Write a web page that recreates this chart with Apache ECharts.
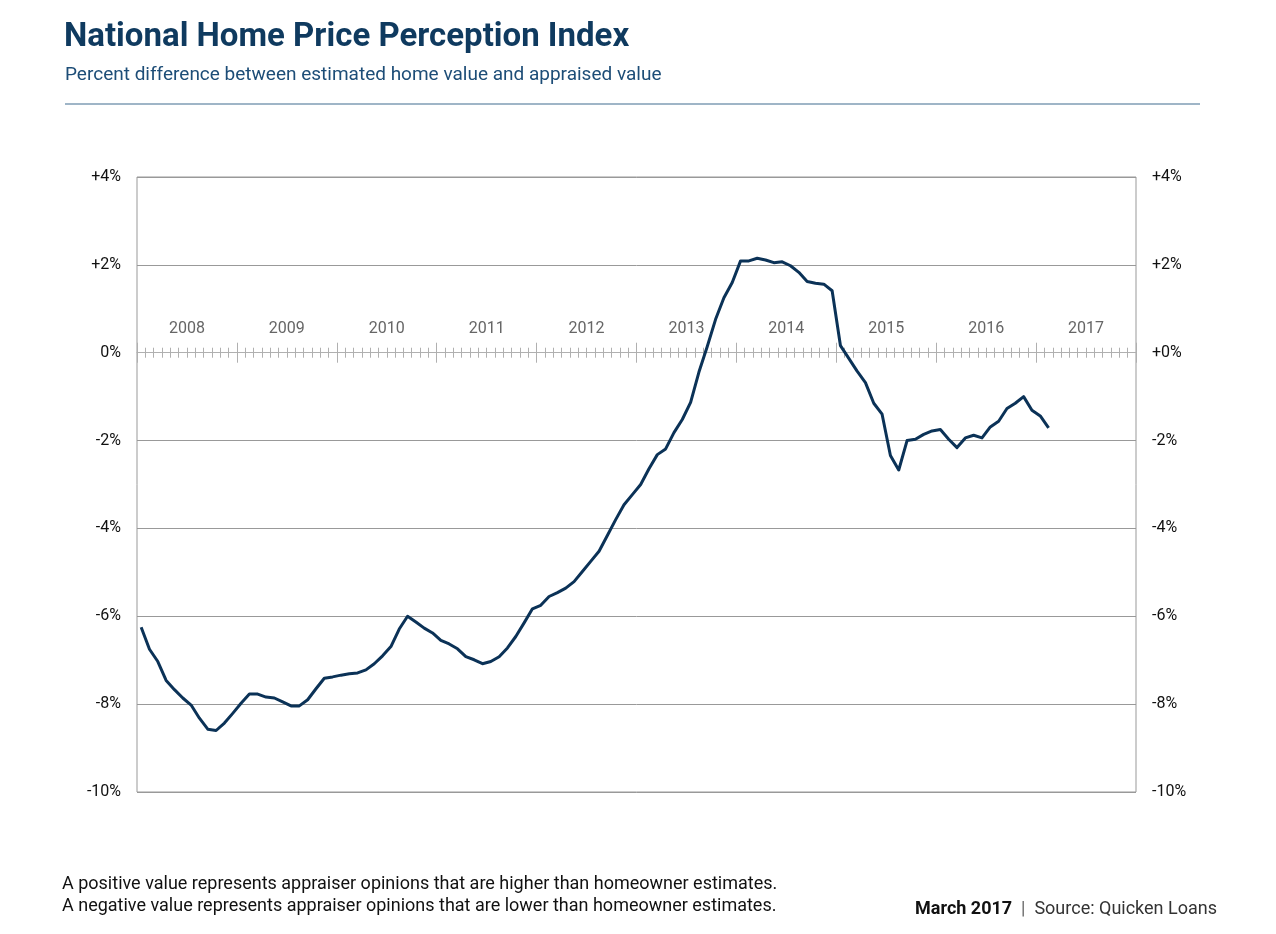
<!DOCTYPE html>
<html>
<head>
<meta charset="utf-8">
<script src="https://cdn.jsdelivr.net/npm/echarts@6/dist/echarts.min.js"></script>
<style>html,body{margin:0;padding:0;background:#fff;}#c{width:1276px;height:934px;}</style>
</head>
<body>
<div id="c"></div>
<script>
// ---- data ----
const startYear = 2008;
const yearLabels = ['2008','2009','2010','2011','2012','2013','2014','2015','2016','2017'];
const monthsPerYear = 12;
// monthly index values, Jan 2008 .. Feb 2017 (percent)
const values = [
  -6.25, -6.75, -7.03, -7.46, -7.67, -7.86, -8.02, -8.32, -8.57, -8.60,
  -8.43, -8.21, -7.98, -7.77, -7.77, -7.84, -7.86, -7.95, -8.04, -8.04,
  -7.90, -7.65, -7.41, -7.38, -7.34, -7.31, -7.29, -7.22, -7.08, -6.90,
  -6.69, -6.29, -6.00, -6.13, -6.27, -6.38, -6.55, -6.63, -6.74, -6.92,
  -6.99, -7.08, -7.03, -6.92, -6.72, -6.46, -6.15, -5.83, -5.75, -5.55,
  -5.46, -5.36, -5.21, -4.98, -4.75, -4.52, -4.16, -3.80, -3.46, -3.23,
  -3.00, -2.64, -2.32, -2.19, -1.82, -1.52, -1.13, -0.44, 0.14, 0.76,
  1.25, 1.60, 2.09, 2.09, 2.15, 2.11, 2.05, 2.07, 1.98, 1.83,
  1.62, 1.58, 1.56, 1.41, 0.16, -0.13, -0.42, -0.68, -1.15, -1.40,
  -2.34, -2.67, -2.00, -1.97, -1.86, -1.78, -1.75, -1.97, -2.16, -1.94,
  -1.88, -1.94, -1.69, -1.56, -1.27, -1.15, -1.00, -1.31, -1.44, -1.71
];
const yMin = -10, yMax = 4, yStep = 2;
const titleText = 'National Home Price Perception Index';
const subtitleText = 'Percent difference between estimated home value and appraised value';
const note1 = 'A positive value represents appraiser opinions that are higher than homeowner estimates.';
const note2 = 'A negative value represents appraiser opinions that are lower than homeowner estimates.';
const dateText = 'March 2017';
const sourceText = 'Source: Quicken Loans';

// ---- chart ----
const totalMonths = yearLabels.length * monthsPerYear;
const seriesData = values.map((v, i) => [i + 0.5, v]);
const FONT = 'Roboto, "Noto Sans", sans-serif';
const gridGray = '#999999';
const tickGray = '#b0b0b0';
const gridTop = 177, gridBottom = 142, chartH = 934;
const gridHeight = chartH - gridTop - gridBottom;
// distance from the plot bottom edge up to the zero line (for the year-label axis)
const zeroOffset = -gridHeight * (0 - yMin) / (yMax - yMin);

function leftFmt(v){ if (v > 0) return '+' + v + '%'; if (v === 0) return '0%'; return v + '%'; }
function rightFmt(v){ if (v >= 0) return '+' + v + '%'; return v + '%'; }

const chart = echarts.init(document.getElementById('c'), null, {renderer:'canvas'});
const onZeroLine = {onZero: true, onZeroAxisIndex: 0, show: false};
const monthAxisBase = {
  type: 'value', min: 0, max: totalMonths, interval: 1, position: 'bottom',
  axisLine: onZeroLine,
  axisLabel: {show: false}, splitLine: {show: false}
};
const yearAxisBase = {
  type: 'category', data: yearLabels, boundaryGap: true, position: 'bottom',
  axisLine: onZeroLine, splitLine: {show: false}
};
chart.setOption({
  backgroundColor: '#ffffff',
  animation: false,
  grid: {left: 137, right: 140, top: gridTop, bottom: gridBottom, show: true, borderColor: gridGray, borderWidth: 1, backgroundColor: 'transparent'},
  graphic: [
    {type: 'text', left: 64, top: 21, style: {text: titleText, font: 'bold 33px ' + FONT, fill: '#0f3a5f'}},
    {type: 'text', left: 65, top: 66, style: {text: subtitleText, font: '19px ' + FONT, fill: '#1d4d77'}},
    {type: 'line', shape: {x1: 65, y1: 104, x2: 1200, y2: 104}, style: {stroke: '#7f9db5', lineWidth: 1.5}},
    {type: 'text', left: 62, top: 875, style: {text: note1, font: '18px ' + FONT, fill: '#111'}},
    {type: 'text', left: 62, top: 897, style: {text: note2, font: '18px ' + FONT, fill: '#111'}},
    {type: 'text', right: 59, top: 900, style: {text: '{b|' + dateText + '}{s|  |  }{n|' + sourceText + '}',
        rich: {b: {font: 'bold 18px ' + FONT, fill: '#111'}, s: {font: '18px ' + FONT, fill: '#666'}, n: {font: '18px ' + FONT, fill: '#333'}}}}
  ],
  xAxis: [
    Object.assign({}, monthAxisBase, {axisLine: {onZero: true, onZeroAxisIndex: 0, show: true, lineStyle: {color: tickGray, width: 1}},
      axisTick: {show: true, inside: true, length: 5, lineStyle: {color: tickGray}}}),
    Object.assign({}, monthAxisBase, {
      axisTick: {show: true, inside: false, length: 5, lineStyle: {color: tickGray}}}),
    Object.assign({}, yearAxisBase, {
      axisLine: {onZero: false, show: false}, offset: zeroOffset,
      axisTick: {show: true, inside: true, length: 10, lineStyle: {color: tickGray}},
      axisLabel: {show: true, inside: true, margin: 16, color: '#666', fontSize: 16, fontFamily: FONT}}),
    Object.assign({}, yearAxisBase, {
      axisTick: {show: true, inside: false, length: 10, lineStyle: {color: tickGray}},
      axisLabel: {show: false}})
  ],
  yAxis: [
    {type: 'value', position: 'left', min: yMin, max: yMax, interval: yStep,
      axisLine: {show: false, onZero: false}, axisTick: {show: false},
      splitLine: {show: true, lineStyle: {color: gridGray, width: 1}},
      axisLabel: {formatter: leftFmt, margin: 16, color: '#111', fontSize: 16, fontFamily: FONT}},
    {type: 'value', position: 'right', min: yMin, max: yMax, interval: yStep,
      axisLine: {show: false, onZero: false}, axisTick: {show: false}, splitLine: {show: false},
      axisLabel: {formatter: rightFmt, margin: 16, color: '#111', fontSize: 16, fontFamily: FONT}}
  ],
  series: [{
    type: 'line', xAxisIndex: 0, yAxisIndex: 0, data: seriesData,
    showSymbol: false, symbol: 'none',
    lineStyle: {color: '#0b3257', width: 3, join: 'round'}
  }]
});
</script>
</body>
</html>
